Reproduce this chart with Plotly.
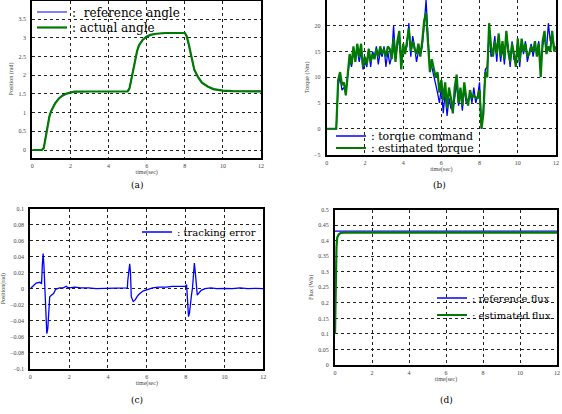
import numpy as np
import plotly.graph_objects as go

# ---------------- data ----------------
# (a) angle
ang_t = [0, 0.5, 0.6, 0.7, 0.8, 0.9, 1.0, 1.2, 1.4, 1.6, 1.8, 2.0, 2.2, 3.0, 4.0, 5.0,
         5.1, 5.2, 5.3, 5.4, 5.5, 5.6, 5.8, 6.0, 6.2, 6.5, 7.0, 8.0, 8.1, 8.2, 8.3, 8.4,
         8.5, 8.7, 8.9, 9.2, 9.5, 10.0, 10.5, 12.0]
ang_ref = [0, 0, 0.06, 0.32, 0.62, 0.92, 1.06, 1.26, 1.39, 1.47, 1.51, 1.54, 1.56, 1.565, 1.57, 1.57,
           1.66, 1.91, 2.21, 2.46, 2.66, 2.81, 2.96, 3.04, 3.08, 3.11, 3.13, 3.13, 3.04, 2.84, 2.59, 2.34,
           2.14, 1.94, 1.8, 1.7, 1.63, 1.59, 1.575, 1.57]
ang_act = [0, 0, 0.05, 0.3, 0.6, 0.9, 1.05, 1.25, 1.38, 1.46, 1.51, 1.54, 1.56, 1.565, 1.57, 1.57,
           1.65, 1.9, 2.2, 2.45, 2.65, 2.8, 2.95, 3.03, 3.08, 3.11, 3.13, 3.13, 3.05, 2.85, 2.6, 2.35,
           2.15, 1.95, 1.8, 1.7, 1.63, 1.59, 1.575, 1.57]

# (b) torque, sampled every 0.1 s from 0 to 12 s
tq_t = np.round(np.arange(0, 12.0001, 0.1), 1)
tq_cmd = [0, 0, 0, 0, 0, 0, 8.5, 10, 7.5, 8, 7, 10, 13.5, 12, 15, 14, 15.5, 13, 15, 11.5,
          13, 12, 15.5, 12, 15, 14, 16, 12.5, 15, 14, 16, 12, 15, 12.5, 14, 20, 14, 16, 18, 12,
          16, 15, 16, 20.5, 14, 18, 16, 13, 15, 14.5, 16, 20, 25, 18, 12, 12, 10.5, 9, 7, 5,
          8, 3, 7, 2.5, 6, 4, 3.5, 6, 9, 4.5, 7, 3.5, 8, 5, 5.5, 7, 5, 8, 5, 6.5,
          9, 0, 4, 11.5, 12, 19, 14, 15, 18, 13, 18, 13, 16, 12.5, 18, 16, 12, 17, 13.5, 13,
          17, 12, 16.5, 14.5, 17, 13, 15, 16.5, 14, 16, 15, 17, 12, 16, 18, 15, 20.5, 17, 18.5, 16,
          15.5]
tq_est = [0, 0, 0, 0, 0, 0, 9.5, 11, 8.5, 9, 6.5, 10.5, 14.5, 12.5, 16, 13, 16.5, 14, 16.5, 12,
          14, 12.5, 15.5, 13, 14.5, 13.5, 15.5, 14, 16, 14.5, 15.5, 14, 16, 15.5, 13.5, 17.5, 13, 17, 19, 11.5,
          16.5, 14.5, 17, 19.5, 15, 17, 15.5, 14.5, 16.5, 14, 17, 21, 22.5, 17, 11, 13.5, 12, 10, 11, 7,
          9.5, 5.5, 9, 4, 8, 6, 3, 8, 10.5, 5, 8, 4.5, 9, 6, 4.5, 7.5, 6, 6.5, 6, 6,
          7.5, 0, 3, 11, 10, 20.5, 16, 14, 17, 14.5, 18.5, 14, 17, 13.5, 19, 15, 13, 16.5, 14.5, 12,
          17.5, 13, 17.5, 15, 16.5, 14, 14.5, 16, 15, 17, 14, 16.5, 10, 17, 19, 14.5, 16, 15, 19, 15,
          16]

# (c) tracking error
err_t = [0, 0.1, 0.3, 0.5, 0.58, 0.62, 0.66, 0.7, 0.75, 0.8, 0.85, 0.9, 0.95, 1.0, 1.1, 1.2, 1.3,
         1.5, 1.7, 1.85, 1.9, 2.0, 2.3, 2.6, 3.0, 3.4, 3.8, 4.2, 4.6, 5.0, 5.02, 5.08, 5.12, 5.16,
         5.2, 5.3, 5.4, 5.5, 5.6, 5.8, 6.0, 6.3, 6.6, 7.0, 7.3, 7.6, 8.0, 8.05, 8.1, 8.15, 8.2,
         8.25, 8.3, 8.35, 8.4, 8.45, 8.5, 8.55, 8.6, 8.7, 8.8, 9.0, 9.3, 9.6, 10.0, 10.4, 10.8,
         11.2, 11.6, 12.0]
err_val = [0, 0.002, 0.007, 0.008, 0.006, 0.03, 0.044, 0.03, 0.0, -0.03, -0.056, -0.05, -0.03, -0.01,
           -0.008, -0.006, -0.001, 0.001, 0.001, 0.003, 0.002, 0.001, 0.002, 0.001, 0.001, 0.0,
           0.0005, 0.0005, 0.001, 0.001, 0.01, 0.03, 0.031, 0.02, -0.01, -0.016, -0.014, -0.01,
           -0.007, -0.003, -0.001, 0.001, 0.002, 0.002, 0.003, 0.003, 0.003, 0.005, -0.01, -0.035,
           -0.03, -0.015, -0.008, 0.0, 0.02, 0.032, 0.02, 0.0, -0.008, -0.005, -0.002, 0.0, 0.001,
           0.0, 0.0005, 0.0, 0.001, 0.0, 0.0005, 0.0]

# (d) flux
flux_ref_t = [0, 12]
flux_ref = [0.431, 0.431]
flux_est_t = [0, 0.02, 0.05, 0.08, 0.12, 0.2, 0.3, 0.5, 1.0, 2.0, 4.0, 6.0, 8.0, 10.0, 12.0]
flux_est = [0.1, 0.2, 0.3, 0.38, 0.41, 0.42, 0.425, 0.426, 0.426, 0.426, 0.426, 0.426, 0.426, 0.426, 0.426]

# tick labels
a_yticks = [0, 0.5, 1, 1.5, 2, 2.5, 3, 3.5, 4]
b_yticks = [-5, 0, 5, 10, 15, 20, 25]
c_yticks = [-0.1, -0.08, -0.06, -0.04, -0.02, 0, 0.02, 0.04, 0.06, 0.08, 0.1]
d_yticks = [0, 0.05, 0.1, 0.15, 0.2, 0.25, 0.3, 0.35, 0.4, 0.45, 0.5]
x_ticks = [0, 2, 4, 6, 8, 10, 12]

BLUE = "#0000ff"
GREEN = "#007a00"
SERIF = "Liberation Serif"
WIDE_SERIF = "DejaVu Serif"
W, H = 562, 414

fig = go.Figure()

fig.add_trace(go.Scatter(x=ang_t, y=ang_ref, mode="lines", name=":  reference angle",
                         line=dict(color=BLUE, width=1.2), xaxis="x", yaxis="y", legend="legend"))
fig.add_trace(go.Scatter(x=ang_t, y=ang_act, mode="lines", name=": actual angle",
                         line=dict(color=GREEN, width=2.2), xaxis="x", yaxis="y", legend="legend2"))

fig.add_trace(go.Scatter(x=tq_t, y=tq_cmd, mode="lines", name=": torque command",
                         line=dict(color=BLUE, width=1.3), xaxis="x2", yaxis="y2", legend="legend3"))
fig.add_trace(go.Scatter(x=tq_t, y=tq_est, mode="lines", name=": estimated torque",
                         line=dict(color=GREEN, width=2.2), xaxis="x2", yaxis="y2", legend="legend4"))

fig.add_trace(go.Scatter(x=err_t, y=err_val, mode="lines", name=": tracking error",
                         line=dict(color=BLUE, width=1.3), xaxis="x3", yaxis="y3", legend="legend5"))

fig.add_trace(go.Scatter(x=flux_ref_t, y=flux_ref, mode="lines", name=": reference flux",
                         line=dict(color=BLUE, width=1.3), xaxis="x4", yaxis="y4", legend="legend6"))
fig.add_trace(go.Scatter(x=flux_est_t, y=flux_est, mode="lines", name=": estimated flux",
                         line=dict(color=GREEN, width=2.2), xaxis="x4", yaxis="y4", legend="legend7"))


def px_x(p):
    return p / W


def px_y(p):
    return 1 - p / H


tickfont = dict(family=SERIF, size=6, color="#444")
titlefont = dict(family=SERIF, size=6, color="#444")


def xax(dom, anchor):
    return dict(domain=dom, anchor=anchor, range=[0, 12], tickvals=x_ticks, showgrid=True,
                gridcolor="#222", griddash="dot", gridwidth=1, zeroline=False, showline=True,
                linecolor="black", linewidth=2, mirror=True, ticks="", tickfont=tickfont,
                automargin=False, ticklabelstandoff=1,
                title=dict(text="time(sec)", font=titlefont, standoff=2))


def yax(dom, anchor, rng, vals, title):
    return dict(domain=dom, anchor=anchor, range=rng, tickvals=vals, showgrid=True,
                gridcolor="#222", griddash="dot", gridwidth=1, zeroline=False, showline=True,
                linecolor="black", linewidth=2, mirror=True, ticks="", tickfont=tickfont,
                automargin=False, ticklabelstandoff=3,
                title=dict(text=title, font=titlefont, standoff=4))


def leg(xp, top_px, size):
    return dict(x=px_x(xp), y=px_y(top_px), bgcolor="rgba(0,0,0,0)", borderwidth=0,
                xanchor="left", yanchor="top", itemwidth=30,
                font=dict(family=WIDE_SERIF, size=size, color="black"))


fig.update_layout(
    width=W, height=H, margin=dict(l=0, r=0, t=0, b=0, autoexpand=False),
    paper_bgcolor="white", plot_bgcolor="white",
    font=dict(family=SERIF, color="black"),
    xaxis=xax([px_x(32.3), px_x(261)], "y"),
    yaxis=yax([px_y(157.5), px_y(0.5)], "x", [-0.2, 4], a_yticks, "Position (rad)"),
    xaxis2=xax([px_x(326.7), px_x(556)], "y2"),
    yaxis2=yax([px_y(154.5), px_y(0)], "x2", [-5, 25], b_yticks, "Torque (Nm)"),
    xaxis3=xax([px_x(30.3), px_x(263.3)], "y3"),
    yaxis3=yax([px_y(368.7), px_y(208.7)], "x3", [-0.1, 0.1], c_yticks, "Position(rad)"),
    xaxis4=xax([px_x(335), px_x(557)], "y4"),
    yaxis4=yax([px_y(365), px_y(209.7)], "x4", [0, 0.5], d_yticks, "Flux (Wb)"),
    legend=leg(32, -2.5, 12),
    legend2=leg(32, 13, 12),
    legend3=leg(331, 121.5, 11),
    legend4=leg(331, 133.5, 11),
    legend5=leg(137, 217.5, 10),
    legend6=leg(432, 283.5, 10),
    legend7=leg(432, 300.5, 10),
    showlegend=True,
)

for txt, x, y in [("(a)", 137, 185), ("(b)", 439, 185), ("(c)", 137, 400), ("(d)", 446, 400)]:
    fig.add_annotation(text=txt, x=px_x(x), y=px_y(y), xref="paper", yref="paper",
                       showarrow=False, xanchor="center", yanchor="middle",
                       font=dict(family=WIDE_SERIF, size=9, color="black"))

fig.write_html("out.html", config={"displayModeBar": False},
               post_script="document.body.style.margin='0px';")
